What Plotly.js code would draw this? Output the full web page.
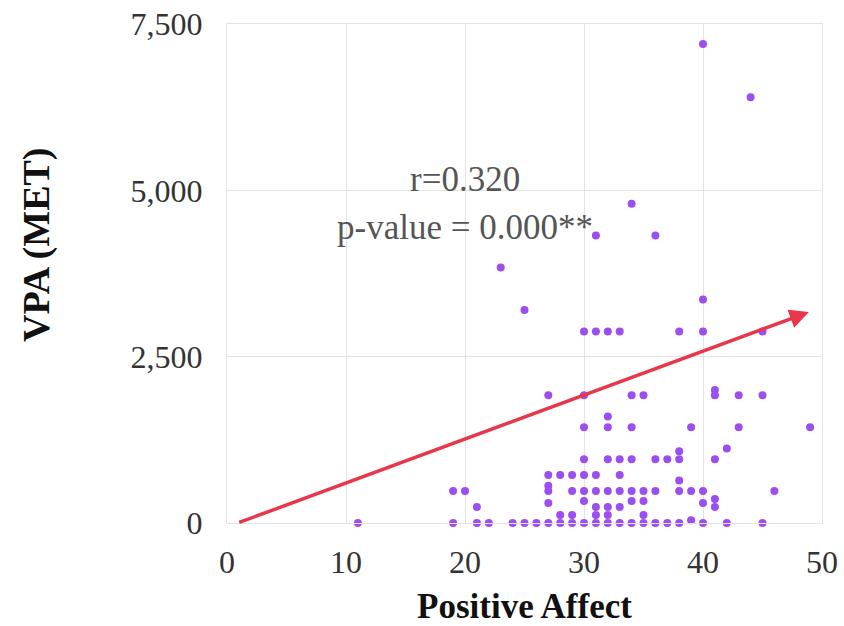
<!DOCTYPE html>
<html>
<head>
<meta charset="utf-8">
<script src="https://cdn.plot.ly/plotly-3.0.1.min.js"></script>
<style>html,body{margin:0;padding:0;background:#fff;}#chart{width:844px;height:626px;}</style>
</head>
<body>
<div id="chart"></div>
<script>
// Positive Affect (x) vs VPA in MET-min (y)
const positiveAffect = [
  40, 44, 34, 31, 36, 23, 40, 25,
  30, 31, 32, 33, 38, 40, 45,
  41,
  27, 30, 34, 35, 41, 43, 45,
  32,
  30, 32, 34, 39, 43, 49,
  42, 38,
  30, 32, 33, 34, 36, 37, 38, 41,
  27, 28, 29, 30, 31, 33,
  38, 27,
  19, 20, 27, 29, 30, 31, 32, 33, 34, 35, 36, 38, 39, 40, 46,
  41,
  30, 34, 35,
  27, 40,
  21, 31, 32, 33, 41,
  28, 29, 31, 32, 35,
  39,
  11, 19, 21, 22, 24, 25, 26, 27, 28, 29, 30, 31, 32, 33, 34, 35, 36, 37, 38, 40, 42, 45
];
const vpaMET = [
  7200, 6400, 4800, 4320, 4320, 3840, 3360, 3200,
  2880, 2880, 2880, 2880, 2880, 2880, 2880,
  2000,
  1920, 1920, 1920, 1920, 1920, 1920, 1920,
  1600,
  1440, 1440, 1440, 1440, 1440, 1440,
  1120, 1080,
  960, 960, 960, 960, 960, 960, 960, 960,
  720, 720, 720, 720, 720, 720,
  640, 560,
  480, 480, 480, 480, 480, 480, 480, 480, 480, 480, 480, 480, 480, 480, 480,
  360,
  330, 330, 330,
  300, 300,
  240, 240, 240, 240, 240,
  120, 120, 120, 120, 120,
  40,
  0, 0, 0, 0, 0, 0, 0, 0, 0, 0, 0, 0, 0, 0, 0, 0, 0, 0, 0, 0, 0, 0
];
const xTicks = [0, 10, 20, 30, 40, 50];
const yTicks = [0, 2500, 5000, 7500];
const yTickText = ['0', '2,500', '5,000', '7,500'];
// trend arrow endpoints (tail -> head)
const trendX = [0.9, 48.9];
const trendY = [0, 3170];
const statsLines = ['r=0.320', 'p-value = 0.000**'];

const serif = 'Liberation Serif, Times New Roman, serif';
const gridCol = '#e3e3e3';

const trace = {
  x: positiveAffect,
  y: vpaMET,
  type: 'scatter',
  mode: 'markers',
  marker: {color: '#9b4ff0', size: 8},
  cliponaxis: false,
  hoverinfo: 'x+y'
};

const layout = {
  width: 844,
  height: 626,
  margin: {l: 227, r: 22, t: 24, b: 103},
  paper_bgcolor: '#ffffff',
  plot_bgcolor: '#ffffff',
  showlegend: false,
  xaxis: {
    range: [0, 50],
    tickvals: xTicks,
    ticktext: xTicks.map(String),
    showgrid: true, gridcolor: gridCol, gridwidth: 1,
    zeroline: false,
    showline: true, linecolor: gridCol, mirror: true,
    ticks: '',
    ticklabelstandoff: 11,
    tickfont: {family: serif, size: 32, color: '#333333'},
    title: {text: '<b>Positive Affect</b>', font: {family: serif, size: 35, color: '#111111'}, standoff: 14}
  },
  yaxis: {
    range: [0, 7500],
    tickvals: yTicks,
    ticktext: yTickText,
    showgrid: true, gridcolor: gridCol, gridwidth: 1,
    zeroline: false,
    showline: true, linecolor: gridCol, mirror: true,
    ticks: '',
    ticklabelstandoff: 17,
    tickfont: {family: serif, size: 32, color: '#333333'}
  },
  annotations: [
    {
      x: trendX[1], y: trendY[1], ax: trendX[0], ay: trendY[0],
      xref: 'x', yref: 'y', axref: 'x', ayref: 'y',
      text: '', showarrow: true,
      arrowcolor: '#e8364a', arrowwidth: 3.5, arrowhead: 2, arrowsize: 1.1, standoff: 0
    },
    {
      x: 20.0, y: 5170, xref: 'x', yref: 'y',
      text: statsLines[0], showarrow: false,
      font: {family: serif, size: 35, color: '#555555'}
    },
    {
      x: 20.0, y: 4440, xref: 'x', yref: 'y',
      text: statsLines[1], showarrow: false,
      font: {family: serif, size: 35, color: '#555555'}
    },
    {
      x: -0.321, y: 0.557, xref: 'paper', yref: 'paper',
      xanchor: 'center', yanchor: 'middle',
      text: '<b>VPA (MET)</b>', textangle: -90, showarrow: false,
      font: {family: serif, size: 38, color: '#111111'}
    }
  ]
};

Plotly.newPlot('chart', [trace], layout, {displayModeBar: false, staticPlot: true});
</script>
</body>
</html>
